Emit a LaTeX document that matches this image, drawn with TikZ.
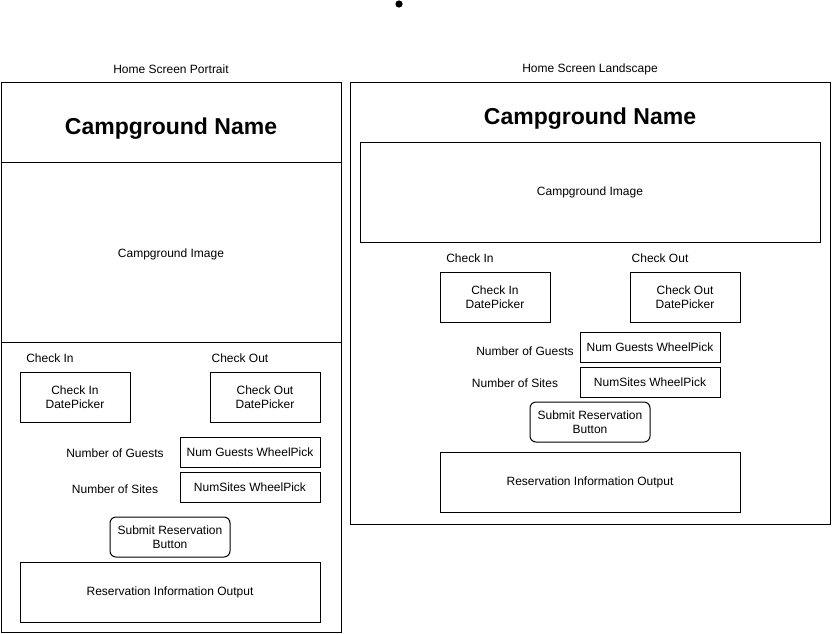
\documentclass[tikz,border=0pt]{standalone}
\usepackage{fontspec}
\setmainfont{Liberation Sans}
\begin{document}
\begin{tikzpicture}[x=1pt,y=-1pt,
  box/.style={draw,line width=1pt,minimum width=#1,inner sep=0pt,align=center,font=\fontsize{12}{14}\selectfont},
  box/.default=110pt,
  lbl/.style={inner sep=0pt,font=\fontsize{12}{14}\selectfont},
  ttl/.style={inner sep=0pt,font=\fontsize{23}{26}\selectfont\bfseries},
  frame/.style={draw,line width=1pt}]
\useasboundingbox (0,0) rectangle (832,633);
\fill (399,4) circle (3.6);
% Portrait
\node[lbl] (tp) at (171,69) {Home Screen Portrait};
\draw[frame] (1,82) rectangle (341,632);
\draw[frame] (1,162) -- (341,162);
\draw[frame] (1,342) -- (341,342);
\node[ttl] (pn) at (171,129) {Campground Name};
\node[lbl] (pi) at (171,254) {Campground Image};
\node[lbl] (pcil) at (50,358) {Check In};
\node[lbl] (pcol) at (240,358) {Check Out};
\node[box,minimum height=50pt] (pci) at (75,397) {Check In\\DatePicker};
\node[box,minimum height=50pt] (pco) at (265,397) {Check Out\\DatePicker};
\node[lbl] (pgl) at (115,453.5) {Number of Guests};
\node[box=140pt,minimum height=30pt] (pg) at (250,452) {Num Guests WheelPick};
\node[lbl] (psl) at (115,489) {Number of Sites};
\node[box=140pt,minimum height=30pt] (ps) at (250,487) {NumSites WheelPick};
\node[box=120pt,minimum height=40pt,rounded corners=6pt] (pb) at (170,537) {Submit Reservation\\Button};
\node[box=300pt,minimum height=60pt] (po) at (170,592) {Reservation Information Output};
% Landscape
\node[lbl] (tl) at (590,69) {Home Screen Landscape};
\draw[frame] (350,82) rectangle (830,524);
\node[ttl] (ln) at (590,119) {Campground Name};
\node[box=460pt,minimum height=100pt] (li) at (590,192) {Campground Image};
\node[lbl] (lcil) at (470,258) {Check In};
\node[lbl] (lcol) at (660,258) {Check Out};
\node[box,minimum height=50pt] (lci) at (495,297) {Check In\\DatePicker};
\node[box,minimum height=50pt] (lco) at (685,297) {Check Out\\DatePicker};
\node[lbl] (lgl) at (525,351) {Number of Guests};
\node[box=140pt,minimum height=30pt] (lg) at (650,347) {Num Guests WheelPick};
\node[lbl] (lsl) at (515,383) {Number of Sites};
\node[box=140pt,minimum height=30pt] (ls) at (650,382) {NumSites WheelPick};
\node[box=120pt,minimum height=40pt,rounded corners=6pt] (lb) at (590,422) {Submit Reservation\\Button};
\node[box=300pt,minimum height=60pt] (lo) at (590,482) {Reservation Information Output};
\end{tikzpicture}
\end{document}
